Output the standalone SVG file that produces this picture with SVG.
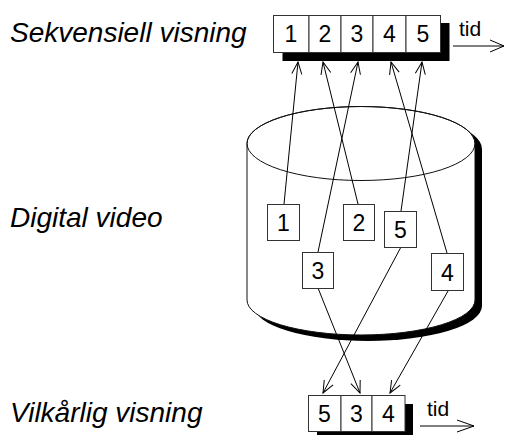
<svg xmlns="http://www.w3.org/2000/svg" width="505" height="435" viewBox="0 0 505 435">
  <style>
    .label { font-family: "Liberation Sans", Arial, sans-serif; font-style: italic; font-size: 28px; fill: #000; }
    .num { font-family: "Liberation Sans", Arial, sans-serif; font-size: 23px; fill: #000; text-anchor: middle; }
    .tid { font-family: "Liberation Sans", Arial, sans-serif; font-size: 21px; fill: #000; }
    .cell { fill: #fff; stroke: #333; stroke-width: 1; }
    .shadow { fill: #000; }
    .link { stroke: #000; stroke-width: 1; fill: none; marker-end: url(#arrow); }
    .axis { stroke: #000; stroke-width: 1; fill: none; }
  </style>
  <defs>
    <marker id="arrow" viewBox="-13 -6 14 12" markerWidth="14" markerHeight="12" refX="0" refY="0" orient="auto" markerUnits="userSpaceOnUse">
      <path d="M-12,-5 L0,0 L-12,5" fill="none" stroke="#000" stroke-width="1"/>
    </marker>
  </defs>

  <rect width="505" height="435" fill="#fff"/>

  <!-- side labels -->
  <g id="labels">
    <text class="label" x="10" y="42">Sekvensiell visning</text>
    <text class="label" x="10" y="227">Digital video</text>
    <text class="label" x="10" y="422">Vilkårlig visning</text>
  </g>

  <!-- storage cylinder with drop shadow -->
  <g id="cylinder">
    <path class="shadow" d="M254,149 A114,37 0 0,1 482,149 L482,306 A114,35 0 0,1 254,306 Z"/>
    <path d="M247,143.5 A114,37 0 0,1 475,143.5 L475,300 A114,35 0 0,1 247,300 Z" fill="#fff" stroke="#111" stroke-width="1"/>
    <ellipse cx="361" cy="143.5" rx="114" ry="37" fill="none" stroke="#111" stroke-width="1"/>
  </g>

  <!-- sequential strip -->
  <g id="seq-strip">
    <rect class="shadow" x="282.5" y="23" width="167" height="38"/>
    <rect class="cell" x="273.5" y="15.5" width="35.5" height="37"/>
    <rect class="cell" x="309" y="15.5" width="32" height="37"/>
    <rect class="cell" x="341" y="15.5" width="32" height="37"/>
    <rect class="cell" x="373" y="15.5" width="33" height="37"/>
    <rect class="cell" x="406" y="15.5" width="34.5" height="37"/>
    <text class="num" x="291" y="42">1</text>
    <text class="num" x="325" y="42">2</text>
    <text class="num" x="357" y="42">3</text>
    <text class="num" x="389.5" y="42">4</text>
    <text class="num" x="423" y="42">5</text>
    <text class="tid" x="459" y="36">tid</text>
    <path class="axis" d="M453,46 L504,46 M490,40 L504,46 L490,52"/>
  </g>

  <!-- random-access strip -->
  <g id="rand-strip">
    <rect class="shadow" x="317" y="404" width="96" height="31"/>
    <rect class="cell" x="308.5" y="395.5" width="32.5" height="36"/>
    <rect class="cell" x="341" y="395.5" width="31" height="36"/>
    <rect class="cell" x="372" y="395.5" width="33" height="36"/>
    <text class="num" x="324.5" y="422">5</text>
    <text class="num" x="356.5" y="422">3</text>
    <text class="num" x="388.5" y="422">4</text>
    <text class="tid" x="427" y="416">tid</text>
    <path class="axis" d="M420,426 L474,426 M457,420 L474,426 L457,432"/>
  </g>

  <!-- connectors -->
  <g id="connectors">
    <path class="link" d="M284,204 L298,62"/>
    <path class="link" d="M358,204 L323,62"/>
    <path class="link" d="M318,252 L358,62"/>
    <path class="link" d="M447,253 L391,62"/>
    <path class="link" d="M401,211 L422,62"/>
    <path class="link" d="M318,288 L360,393"/>
    <path class="link" d="M401,247 L323,393"/>
    <path class="link" d="M448,291 L390,393"/>
  </g>

  <!-- video frames inside the cylinder -->
  <g id="frame-1">
    <rect class="cell" x="267.5" y="204.5" width="32" height="36"/>
    <text class="num" x="283.5" y="231">1</text>
  </g>
  <g id="frame-2">
    <rect class="cell" x="343.5" y="204.5" width="31" height="36"/>
    <text class="num" x="359" y="231">2</text>
  </g>
  <g id="frame-5">
    <rect class="cell" x="384.5" y="211.5" width="32" height="36"/>
    <text class="num" x="400.5" y="238">5</text>
  </g>
  <g id="frame-3">
    <rect class="cell" x="302.5" y="252.5" width="31" height="36"/>
    <text class="num" x="318" y="279">3</text>
  </g>
  <g id="frame-4">
    <rect class="cell" x="431.5" y="253.5" width="32" height="37"/>
    <text class="num" x="447.5" y="280.5">4</text>
  </g>
</svg>
